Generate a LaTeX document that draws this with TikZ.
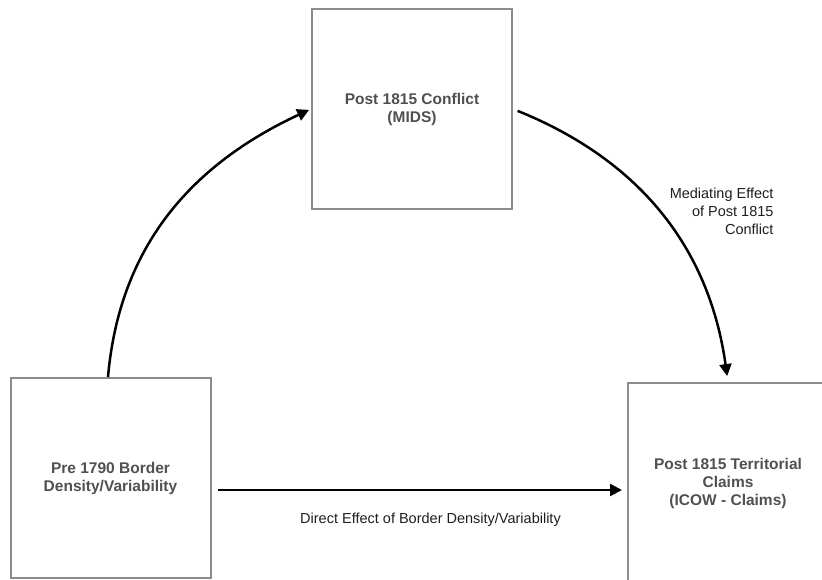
\documentclass[tikz,border=0pt]{standalone}
\usepackage{fontspec}
\setmainfont{Liberation Sans}
\usepackage{xcolor}
\usepackage{tikz}
\usetikzlibrary{arrows.meta}
\definecolor{boxGray}{RGB}{140,140,140}
\definecolor{boxText}{RGB}{80,80,80}
\definecolor{labelText}{RGB}{30,30,30}

\begin{document}
\begin{tikzpicture}[x=1pt, y=1pt,
  varbox/.style={draw=boxGray, line width=2pt, minimum width=200pt, minimum height=200pt,
    align=center, text=boxText, font=\fontsize{15.5}{18}\selectfont\bfseries},
  effect/.style={-{Triangle[length=12pt,width=12pt]}, line width=2.5pt},
  effectlabel/.style={text=labelText, font=\fontsize{14.5}{18}\selectfont}]
\useasboundingbox (0,0) rectangle (822,579);
%
\node[varbox] (pre) at (110.5,101) {Pre 1790 Border\\Density/Variability};
\node[varbox] (mids) at (412,470) {Post 1815 Conflict\\(MIDS)};
\node[varbox] (claims) at (728,96) {Post 1815 Territorial\\Claims\\(ICOW - Claims)};

%
\coordinate (direct) at (218,89);
\draw[effect, shorten >=5pt] (direct) -- (direct -| claims.west)
  node[effectlabel, midway, xshift=8pt, yshift=-30pt] (directlbl) {Direct Effect of Border Density/Variability};
\draw[effect, shorten >=2pt] ([xshift=-2.5pt]pre.north) to[out=85, in=205] (mids.west);
\draw[effect, shorten <=5pt, shorten >=6pt] (mids.east) to[out=-22, in=98] (claims.north);
\node[effectlabel, align=right, anchor=east] (medlbl) at (777,368) {Mediating Effect\\of Post 1815\\Conflict};
\end{tikzpicture}
\end{document}
